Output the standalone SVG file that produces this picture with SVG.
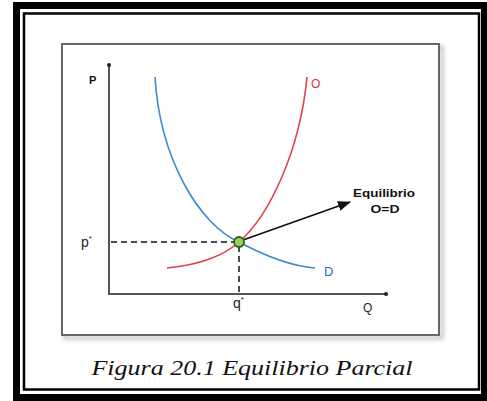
<svg xmlns="http://www.w3.org/2000/svg" width="487" height="401" viewBox="0 0 487 401">
  <defs>
    <style>
      .lbl { font-family: "Liberation Sans", Arial, sans-serif; fill: #222; }
      .bold { font-family: "Liberation Sans", Arial, sans-serif; font-weight: bold; fill: #111; }
      .axis { stroke: #555; stroke-width: 2; fill: none; }
      .dash { stroke: #111; stroke-width: 1.5; stroke-dasharray: 6 4; fill: none; }
    </style>
    <marker id="tip" markerWidth="6" markerHeight="6" refX="3" refY="3" orient="auto" markerUnits="userSpaceOnUse">
      <circle cx="3" cy="3" r="2" fill="#222"/>
    </marker>
    <marker id="arr" markerWidth="14" markerHeight="10" refX="12" refY="5" orient="auto" markerUnits="userSpaceOnUse">
      <path d="M0,0 L13,5 L0,10 Z" fill="#111"/>
    </marker>
    <filter id="shadow" x="-5%" y="-5%" width="115%" height="115%">
      <feGaussianBlur stdDeviation="2"/>
    </filter>
  </defs>

  <rect width="487" height="401" fill="#ffffff"/>

  <g id="frame">
    <rect x="16.5" y="5.5" width="468" height="392" fill="none" stroke="#000" stroke-width="7"/>
    <rect x="24" y="13.5" width="455" height="376" fill="none" stroke="#000" stroke-width="2.5"/>
  </g>

  <g id="chart-box">
    <rect x="65" y="47" width="377" height="291" fill="none" stroke="#bbb" stroke-width="3" filter="url(#shadow)"/>
    <rect x="62" y="44" width="377" height="291" fill="#fff" stroke="#666" stroke-width="2"/>
  </g>

  <g id="axes">
    <line class="axis" x1="109" y1="294" x2="109" y2="65" marker-end="url(#tip)"/>
    <line class="axis" x1="108" y1="294" x2="386" y2="294" marker-end="url(#tip)"/>
    <text class="bold" x="89" y="84" font-size="11">P</text>
    <text class="lbl" x="363" y="312" font-size="12">Q</text>
  </g>

  <g id="connectors">
    <line class="dash" x1="111" y1="242" x2="236" y2="242"/>
    <line class="dash" x1="239" y1="246" x2="239" y2="293"/>
    <line x1="243" y1="240" x2="350" y2="202" stroke="#111" stroke-width="1.8" marker-end="url(#arr)"/>
  </g>

  <g id="demand">
    <path d="M155,77 C160,160 200,225 239,242 C265,256 290,266 315,268" fill="none" stroke="#3b8ad6" stroke-width="1.6"/>
    <text x="324" y="276" font-family="Liberation Sans, Arial, sans-serif" font-size="13" fill="#2a6fc0">D</text>
  </g>

  <g id="supply">
    <path d="M167,268 C200,265 225,255 239,242 C270,215 300,150 307,77" fill="none" stroke="#e0424b" stroke-width="1.6"/>
    <text x="311" y="88" font-family="Liberation Sans, Arial, sans-serif" font-size="12" fill="#d9323c">O</text>
  </g>

  <g id="equilibrium-point">
    <circle cx="239" cy="242" r="5" fill="#93cf62" stroke="#2f5e16" stroke-width="1.8"/>
  </g>

  <g id="price-label">
    <text class="lbl" x="81" y="247" font-size="14">p<tspan font-size="8" dy="-6">*</tspan></text>
  </g>

  <g id="quantity-label">
    <text class="lbl" x="233" y="308" font-size="14">q<tspan font-size="8" dy="-6">*</tspan></text>
  </g>

  <g id="equilibrium-label">
    <text class="bold" x="384" y="197" font-size="11.5" text-anchor="middle" textLength="62" lengthAdjust="spacingAndGlyphs">Equilibrio</text>
    <text class="bold" x="385" y="213" font-size="11" text-anchor="middle" textLength="29" lengthAdjust="spacingAndGlyphs">O=D</text>
  </g>

  <g id="caption">
    <text x="252" y="375" font-family="Liberation Serif, 'Times New Roman', serif" font-style="italic" font-size="22" fill="#111" text-anchor="middle" textLength="321" lengthAdjust="spacingAndGlyphs">Figura 20.1 Equilibrio Parcial</text>
  </g>
</svg>
